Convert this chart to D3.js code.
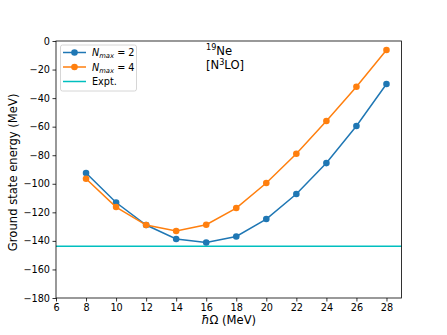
<!DOCTYPE html>
<html>
<head>
<meta charset="utf-8">
<script src="https://cdn.jsdelivr.net/npm/d3@7"></script>
<style>
  body { margin: 0; background: #fff; }
  svg { font-family: "DejaVu Sans", sans-serif; }
</style>
</head>
<body>
<script>
// data
var hw = [8, 10, 12, 14, 16, 18, 20, 22, 24, 26, 28];
var nmax2 = [-92.5, -113.1, -128.9, -138.7, -141.1, -136.9, -124.7, -107.2, -85.5, -59.5, -30.1];
var nmax4 = [-96.5, -116.3, -128.9, -133.1, -128.7, -117.0, -99.5, -79.0, -56.0, -32.0, -6.3];
var expt = -143.7;
var xTicks = [6, 8, 10, 12, 14, 16, 18, 20, 22, 24, 26, 28];
var yTicks = [0, -20, -40, -60, -80, -100, -120, -140, -160, -180];

var width = 447, height = 335;
var margin = {left: 56, top: 41, right: 45.5, bottom: 37};

var svg = d3.select("body").append("svg")
    .attr("width", width)
    .attr("height", height);

var x = d3.scaleLinear().domain([6, 29]).range([margin.left, width - margin.right]);
var y = d3.scaleLinear().domain([-180, 0]).range([height - margin.bottom, margin.top]);

// expt line first (under the series)
svg.append("line")
    .attr("x1", x(6)).attr("x2", x(29))
    .attr("y1", y(expt)).attr("y2", y(expt))
    .style("stroke", "#00bfbf")
    .style("stroke-width", 1.5);

var series = [
  {vals: nmax2, color: "#1f77b4"},
  {vals: nmax4, color: "#ff7f0e"}
];

var line = d3.line()
    .x(function(d, i) { return x(hw[i]); })
    .y(function(d) { return y(d); });

series.forEach(function(s) {
  svg.append("path")
      .attr("d", line(s.vals))
      .style("fill", "none")
      .style("stroke", s.color)
      .style("stroke-width", 1.5);
  svg.selectAll(null)
      .data(s.vals)
      .enter().append("circle")
      .attr("cx", function(d, i) { return x(hw[i]); })
      .attr("cy", function(d) { return y(d); })
      .attr("r", 3.3)
      .style("fill", s.color);
});

// axes
var xAxis = svg.append("g")
    .attr("transform", "translate(0," + y(-180) + ")")
    .call(d3.axisBottom(x).tickValues(xTicks).tickSize(3.5).tickPadding(2.5).tickFormat(d3.format("d")));
var yAxis = svg.append("g")
    .attr("transform", "translate(" + x(6) + ",0)")
    .call(d3.axisLeft(y).tickValues(yTicks).tickSize(3.5).tickPadding(2.5)
      .tickFormat(function(d) { return d < 0 ? "\u2212" + Math.abs(d) : d; }));

[xAxis, yAxis].forEach(function(a) {
  a.select(".domain").remove();
  a.selectAll("text").style("font-size", "9.7px").style("fill", "#000")
    .style("font-family", "DejaVu Sans, sans-serif");
  a.selectAll("line").style("stroke", "#000").style("stroke-width", 0.8);
});

// frame
svg.append("rect")
    .attr("x", x(6)).attr("y", y(0))
    .attr("width", x(29) - x(6)).attr("height", y(-180) - y(0))
    .style("fill", "none")
    .style("stroke", "#000")
    .style("stroke-width", 0.8);

// axis labels
svg.append("text")
    .attr("x", (x(6) + x(29)) / 2).attr("y", 324)
    .attr("text-anchor", "middle")
    .style("font-size", "11.6px")
    .html('<tspan font-style="italic">\u0127</tspan>\u03A9 (MeV)');

svg.append("text")
    .attr("transform", "translate(17," + (y(-92)) + ") rotate(-90)")
    .attr("text-anchor", "middle")
    .style("font-size", "11.6px")
    .text("Ground state energy (MeV)");

// annotation
var ann = svg.append("text").attr("x", 206).attr("y", 54.5).style("font-size", "11.6px");
ann.append("tspan").text("19").style("font-size", "8.1px").attr("dy", -4.5);
ann.append("tspan").text("Ne").attr("dy", 4.5);
var ann2 = svg.append("text").attr("x", 206).attr("y", 69).style("font-size", "11.6px");
ann2.append("tspan").text("[N");
ann2.append("tspan").text("3").style("font-size", "8.1px").attr("dy", -4);
ann2.append("tspan").text("LO]").attr("dy", 4);

// legend
var lg = svg.append("g");
lg.append("rect")
    .attr("x", 60.5).attr("y", 45).attr("width", 76).attr("height", 46).attr("rx", 2)
    .style("fill", "#fff").style("fill-opacity", 0.8)
    .style("stroke", "#ccc").style("stroke-width", 0.8);

var legendItems = [
  {label: "max", color: "#1f77b4", n: 2, marker: true},
  {label: "max", color: "#ff7f0e", n: 4, marker: true},
  {label: "Expt.", color: "#00bfbf", marker: false}
];
legendItems.forEach(function(d, i) {
  var cy = 52.5 + i * 14.5;
  lg.append("line").attr("x1", 63).attr("x2", 86).attr("y1", cy).attr("y2", cy)
    .style("stroke", d.color).style("stroke-width", 1.5);
  if (d.marker) {
    lg.append("circle").attr("cx", 74.5).attr("cy", cy).attr("r", 3.3).style("fill", d.color);
    var t = lg.append("text").attr("x", 92).attr("y", cy + 3.5).style("font-size", "9.7px");
    t.append("tspan").text("N").style("font-style", "italic");
    t.append("tspan").text("max").style("font-style", "italic").style("font-size", "6.8px").attr("dy", 2);
    t.append("tspan").text(" = " + d.n).attr("dy", -2);
  } else {
    lg.append("text").attr("x", 92).attr("y", cy + 3.5).style("font-size", "9.7px").text(d.label);
  }
});
</script>
</body>
</html>
